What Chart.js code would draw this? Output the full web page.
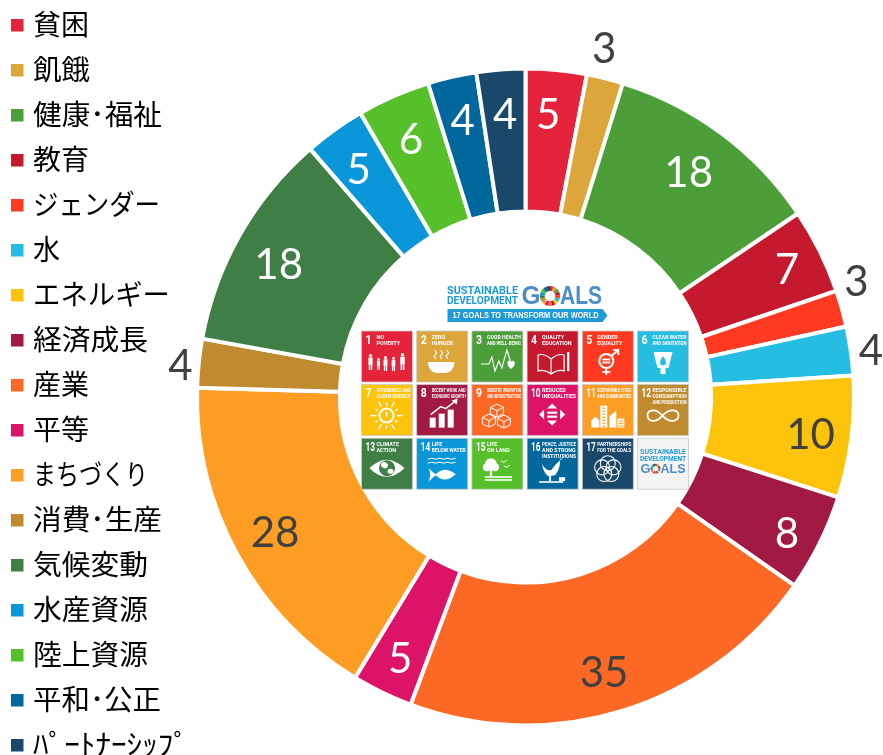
<!DOCTYPE html>
<html lang="ja">
<head>
<meta charset="utf-8">
<title>SDGs 分野別件数</title>
<style>
  html, body { margin: 0; padding: 0; background: #fff; overflow: hidden; }
  #wrap { position: relative; width: 883px; height: 755px; }
</style>
<script src="https://cdn.jsdelivr.net/npm/chart.js@4"></script>
</head>
<body>
<div id="wrap"><canvas id="chart" width="883" height="755"></canvas></div>
<script>
// Goal names, counts and the official goal colours
const goalNames = ['貧困', '飢餓', '健康･福祉', '教育', 'ジェンダー', '水', 'エネルギー', '経済成長', '産業', '平等', 'まちづくり', '消費･生産', '気候変動', '水産資源', '陸上資源', '平和･公正', 'ﾊﾟｰﾄﾅｰｼｯﾌﾟ'];
const goalCounts = [5, 3, 18, 7, 3, 4, 10, 8, 35, 5, 28, 4, 18, 5, 6, 4, 4];
const goalColors = ['#E5243B', '#DDA63A', '#4C9F38', '#C5192D', '#FF3A21', '#26BDE2', '#FCC30B', '#A21942', '#FD6925', '#DD1367', '#FD9D24', '#BF8B2E', '#3F7E44', '#0A97D9', '#56C02B', '#00689D', '#19486A'];

// Slices whose count sits outside the ring, and those with a dark count inside it
const outsideCounts = new Set(['飢餓', 'ジェンダー', '水', '消費･生産']);
const darkCounts = new Set(['エネルギー', '産業', 'まちづくり']);

// Hand placement of each count relative to its slice's mid-angle position
const countNudges = [[-4, 2], [-6, -8], [-7, 5], [6, 0], [-6, -20], [-1, 4], [2, 4], [6, 11], [-6, 4], [-1, 6], [0, 0], [3, 6], [1, 9], [-1, 5], [0, 5], [1, 2], [1, 3]];

// Set width of each key entry, in pixels
const keyWidths = [56, 57, 129, 56, 127, 27, 137, 115, 56, 56, 115, 129, 115, 115, 115, 128, 156];

// Text on the goal tiles in the middle of the ring
const tileNumbers = ['1', '2', '3', '4', '5', '6', '7', '8', '9', '10', '11', '12', '13', '14', '15', '16', '17'];
const tileTitles = [
  ['NO', 'POVERTY'], ['ZERO', 'HUNGER'], ['GOOD HEALTH', 'AND WELL-BEING'], ['QUALITY', 'EDUCATION'],
  ['GENDER', 'EQUALITY'], ['CLEAN WATER', 'AND SANITATION'], ['AFFORDABLE AND', 'CLEAN ENERGY'],
  ['DECENT WORK AND', 'ECONOMIC GROWTH'], ['INDUSTRY, INNOVATION', 'AND INFRASTRUCTURE'], ['REDUCED', 'INEQUALITIES'],
  ['SUSTAINABLE CITIES', 'AND COMMUNITIES'], ['RESPONSIBLE', 'CONSUMPTION', 'AND PRODUCTION'], ['CLIMATE', 'ACTION'],
  ['LIFE', 'BELOW WATER'], ['LIFE', 'ON LAND'], ['PEACE, JUSTICE', 'AND STRONG', 'INSTITUTIONS'],
  ['PARTNERSHIPS', 'FOR THE GOALS']
];

const NARROW = '"Liberation Sans Narrow", "Roboto", sans-serif';
const LOGO_BLUE = '#1f9ad6';
const GOALS_BLUE = '#4b8fc6';

// Small white pictograms, one per tile, drawn in a 51px tile box
function shape(ctx, fn) { ctx.beginPath(); fn(); ctx.fill(); }
function line(ctx, pts, w) {
  ctx.lineWidth = w; ctx.beginPath();
  pts.forEach((p, i) => i ? ctx.lineTo(p[0], p[1]) : ctx.moveTo(p[0], p[1]));
  ctx.stroke();
}
function person(ctx, x, top, h) {
  const r = h * 0.1;
  shape(ctx, () => ctx.arc(x, top + r, r, 0, 7));
  ctx.fillRect(x - h * 0.13, top + r * 2.2, h * 0.26, h * 0.44);
  ctx.fillRect(x - h * 0.11, top + h * 0.6, h * 0.09, h * 0.4);
  ctx.fillRect(x + h * 0.02, top + h * 0.6, h * 0.09, h * 0.4);
}
function cube(ctx, x, y, s) {
  ctx.lineWidth = 1;
  ctx.beginPath();
  ctx.moveTo(x, y - s); ctx.lineTo(x + s, y - s / 2); ctx.lineTo(x + s, y + s / 2);
  ctx.lineTo(x, y + s); ctx.lineTo(x - s, y + s / 2); ctx.lineTo(x - s, y - s / 2); ctx.closePath();
  ctx.moveTo(x - s, y - s / 2); ctx.lineTo(x, y); ctx.lineTo(x + s, y - s / 2); ctx.moveTo(x, y); ctx.lineTo(x, y + s);
  ctx.stroke();
}
const pictograms = [
  ctx => { [[9, 23, 16], [17, 27, 12], [24, 25, 15], [32, 26, 14], [41, 22, 17]].forEach(p => person(ctx, p[0], p[1], p[2])); },
  ctx => {
    shape(ctx, () => { ctx.moveTo(11, 31); ctx.lineTo(38, 31); ctx.quadraticCurveTo(37, 41, 29, 42); ctx.lineTo(20, 42); ctx.quadraticCurveTo(12, 41, 11, 31); });
    [19, 25, 31].forEach(x => line(ctx, [[x, 28], [x - 1.5, 25], [x + 1, 22], [x - 1, 19]], 1.1));
  },
  ctx => {
    line(ctx, [[9, 33], [17, 33], [20, 26], [23, 40], [27, 30], [30, 37], [35, 19], [39, 32]], 1.1);
    shape(ctx, () => { ctx.moveTo(39, 38); ctx.bezierCurveTo(33, 33, 36, 27, 39, 31); ctx.bezierCurveTo(42, 27, 46, 33, 39, 38); });
  },
  ctx => {
    ctx.lineWidth = 1.2;
    ctx.beginPath();
    ctx.moveTo(24, 28); ctx.quadraticCurveTo(17, 22, 11, 24); ctx.lineTo(11, 40); ctx.quadraticCurveTo(17, 38, 24, 43);
    ctx.quadraticCurveTo(31, 38, 37, 40); ctx.lineTo(37, 24); ctx.quadraticCurveTo(31, 22, 24, 28); ctx.lineTo(24, 43);
    ctx.stroke();
    ctx.fillRect(40, 21, 2.2, 19);
  },
  ctx => {
    ctx.lineWidth = 2;
    ctx.beginPath(); ctx.arc(24, 30, 7, 0, 7); ctx.stroke();
    ctx.fillRect(20, 27.6, 8, 1.8); ctx.fillRect(20, 30.6, 8, 1.8);
    line(ctx, [[24, 37], [24, 44]], 1.8); line(ctx, [[20, 41], [28, 41]], 1.8);
    line(ctx, [[29, 25], [36, 19]], 1.8);
    line(ctx, [[31, 19], [36, 19], [36, 24]], 1.8);
  },
  ctx => {
    shape(ctx, () => { ctx.moveTo(16, 21); ctx.lineTo(35, 21); ctx.lineTo(31, 37); ctx.lineTo(28, 37); ctx.lineTo(28, 43); ctx.lineTo(23, 43); ctx.lineTo(23, 37); ctx.lineTo(20, 37); ctx.closePath(); });
    ctx.save(); ctx.fillStyle = goalColors[5];
    shape(ctx, () => { ctx.moveTo(25.5, 25); ctx.bezierCurveTo(30, 31, 29, 34.5, 25.5, 34.5); ctx.bezierCurveTo(22, 34.5, 21, 31, 25.5, 25); });
    ctx.restore();
  },
  ctx => {
    ctx.lineWidth = 2;
    ctx.beginPath(); ctx.arc(25, 31, 7, 0, 7); ctx.stroke();
    for (let i = 0; i < 12; i++) {
      const a = i * Math.PI / 6, r0 = 10, r1 = i % 2 ? 13 : 16;
      line(ctx, [[25 + r0 * Math.cos(a), 31 + r0 * Math.sin(a)], [25 + r1 * Math.cos(a), 31 + r1 * Math.sin(a)]], 1.4);
    }
    line(ctx, [[25, 27], [25, 32]], 1.5);
  },
  ctx => {
    [[13, 33, 10], [22, 29, 14], [31, 25, 18]].forEach(b => ctx.fillRect(b[0], b[1], 6, b[2]));
    line(ctx, [[14, 30], [24, 22], [29, 24], [38, 17]], 1.5);
    shape(ctx, () => { ctx.moveTo(41, 14); ctx.lineTo(40, 20); ctx.lineTo(35, 16); });
  },
  ctx => { cube(ctx, 25, 26, 6.5); cube(ctx, 17, 36, 6.5); cube(ctx, 32, 37, 6.5); },
  ctx => {
    ctx.fillRect(20, 27, 10, 2.2); ctx.fillRect(20, 31, 10, 2.2);
    shape(ctx, () => { ctx.moveTo(25, 19); ctx.lineTo(30, 24); ctx.lineTo(20, 24); });
    shape(ctx, () => { ctx.moveTo(25, 41); ctx.lineTo(30, 36); ctx.lineTo(20, 36); });
    shape(ctx, () => { ctx.moveTo(12, 30); ctx.lineTo(17, 25); ctx.lineTo(17, 35); });
    shape(ctx, () => { ctx.moveTo(38, 30); ctx.lineTo(33, 25); ctx.lineTo(33, 35); });
  },
  ctx => {
    shape(ctx, () => { ctx.moveTo(9, 36); ctx.lineTo(13, 32); ctx.lineTo(17, 36); ctx.lineTo(17, 43); ctx.lineTo(9, 43); ctx.closePath(); });
    ctx.fillRect(18, 21, 7, 22);
    shape(ctx, () => { ctx.moveTo(27, 43); ctx.lineTo(27, 32); ctx.lineTo(34, 26); ctx.lineTo(34, 43); });
    ctx.fillRect(35, 34, 7, 9);
    ctx.save(); ctx.fillStyle = goalColors[10];
    for (let y = 23; y < 42; y += 3) ctx.fillRect(20, y, 3, 1.2);
    for (let y = 36; y < 42; y += 2.5) ctx.fillRect(36, y, 5, 1);
    ctx.restore();
  },
  ctx => {
    ctx.lineWidth = 1.7; ctx.beginPath();
    ctx.moveTo(25, 31); ctx.bezierCurveTo(18, 23, 10, 25, 10, 31); ctx.bezierCurveTo(10, 37, 18, 39, 25, 31);
    ctx.bezierCurveTo(32, 23, 41, 25, 41, 31); ctx.bezierCurveTo(41, 37, 32, 39, 25, 31);
    ctx.stroke();
  },
  ctx => {
    shape(ctx, () => { ctx.moveTo(8, 30); ctx.quadraticCurveTo(25, 13, 43, 30); ctx.quadraticCurveTo(25, 47, 8, 30); });
    ctx.save(); ctx.fillStyle = goalColors[12];
    shape(ctx, () => ctx.arc(25.5, 30, 8, 0, 7)); ctx.restore();
    shape(ctx, () => { ctx.ellipse(23, 27, 3.5, 3, 0.4, 0, 7); });
    shape(ctx, () => { ctx.ellipse(29, 33, 3, 2.5, 0, 0, 7); });
  },
  ctx => {
    [21, 25].forEach(y => line(ctx, [[11, y], [15, y - 1], [19, y], [23, y - 1], [27, y], [31, y - 1], [35, y], [39, y - 1]], 1));
    shape(ctx, () => { ctx.moveTo(12, 30); ctx.quadraticCurveTo(16, 34, 19, 36); ctx.quadraticCurveTo(28, 27, 39, 36); ctx.quadraticCurveTo(28, 46, 19, 37); ctx.lineTo(12, 43); ctx.quadraticCurveTo(15, 36, 12, 30); });
  },
  ctx => {
    shape(ctx, () => ctx.arc(19, 26, 6, 0, 7));
    shape(ctx, () => ctx.arc(15, 29, 4, 0, 7));
    shape(ctx, () => ctx.arc(23, 29, 4, 0, 7));
    ctx.fillRect(18, 30, 2.2, 8);
    ctx.fillRect(13, 38, 27, 1.6); ctx.fillRect(13, 41, 27, 1.6);
    line(ctx, [[29, 23], [32, 24], [35, 22]], 0.9);
    line(ctx, [[32, 28], [35, 29], [38, 27]], 0.9);
  },
  ctx => {
    shape(ctx, () => { ctx.moveTo(15, 26); ctx.quadraticCurveTo(19, 33, 24, 32); ctx.quadraticCurveTo(27, 27, 33, 22); ctx.quadraticCurveTo(33, 31, 28, 37); ctx.lineTo(21, 38); ctx.quadraticCurveTo(16, 34, 15, 26); });
    line(ctx, [[33, 22], [38, 17]], 0.9);
    ctx.fillRect(12, 43, 24, 1.6); ctx.fillRect(22, 38, 2, 5);
    ctx.fillRect(32, 39, 6, 4);
  },
  ctx => {
    ctx.lineWidth = 1.1;
    for (let i = 0; i < 5; i++) {
      const a = -Math.PI / 2 + i * 2 * Math.PI / 5;
      ctx.beginPath(); ctx.arc(25.5 + 6 * Math.cos(a), 31 + 6 * Math.sin(a), 7.5, 0, 7); ctx.stroke();
    }
  }
];

// Goal logo: a ring of the seventeen goal colours standing in for the letter O
function goalRing(ctx, cx, cy, rOut, rIn) {
  const step = 2 * Math.PI / goalColors.length;
  goalColors.forEach((c, i) => {
    ctx.fillStyle = c;
    ctx.beginPath();
    ctx.arc(cx, cy, rOut, -Math.PI / 2 + i * step, -Math.PI / 2 + (i + 1) * step);
    ctx.arc(cx, cy, rIn, -Math.PI / 2 + (i + 1) * step, -Math.PI / 2 + i * step, true);
    ctx.closePath(); ctx.fill();
  });
}

function drawTile(ctx, i, x, y, size) {
  ctx.save();
  ctx.translate(x, y);
  ctx.fillStyle = goalColors[i];
  ctx.strokeStyle = '#c9c9c9'; ctx.lineWidth = 0.8;
  ctx.fillRect(0, 0, size, size); ctx.strokeRect(0, 0, size, size);
  ctx.fillStyle = '#fff'; ctx.strokeStyle = '#fff';
  ctx.textAlign = 'left'; ctx.textBaseline = 'middle';
  ctx.font = 'bold 12px ' + NARROW;
  ctx.fillText(tileNumbers[i], 4, 9.5, i >= 9 ? 9.5 : 6);
  ctx.font = 'bold 5.4px ' + NARROW;
  tileTitles[i].forEach((t, k) => ctx.fillText(t, 15, 6.5 + k * 5.8, 34));
  pictograms[i](ctx);
  ctx.restore();
}

const centerGraphic = {
  id: 'centerGraphic',
  afterDatasetsDraw(chart) {
    const ctx = chart.ctx;
    const arc = chart.getDatasetMeta(0).data[0];
    const left = arc.x - 164, top = arc.y - 111;   // top-left of the logo block
    ctx.save();
    ctx.filter = 'blur(0.35px)';
    ctx.textBaseline = 'middle'; ctx.textAlign = 'left';

    // Wordmark
    ctx.fillStyle = LOGO_BLUE;
    ctx.font = 'bold 11px ' + NARROW;
    ctx.fillText('SUSTAINABLE', left + 85.5, top + 5.5, 71);
    ctx.fillText('DEVELOPMENT', left + 85.5, top + 15, 71);
    ctx.fillStyle = GOALS_BLUE;
    ctx.font = 'bold 25px "Liberation Sans", sans-serif';
    ctx.fillText('G', left + 160, top + 11, 19);
    ctx.fillText('ALS', left + 198.5, top + 11, 42);
    goalRing(ctx, left + 188.5, top + 10, 10, 5.2);

    // Arrow banner
    ctx.fillStyle = LOGO_BLUE;
    ctx.beginPath();
    ctx.moveTo(left + 86, top + 23); ctx.lineTo(left + 241, top + 23); ctx.lineTo(left + 246, top + 29.5);
    ctx.lineTo(left + 241, top + 36); ctx.lineTo(left + 86, top + 36); ctx.closePath(); ctx.fill();
    ctx.fillStyle = '#fff';
    ctx.font = 'bold 9px "Liberation Sans", sans-serif';
    ctx.fillText('17 GOALS TO TRANSFORM OUR WORLD', left + 91, top + 30, 146);

    // Six-by-three grid of goal tiles
    const size = 51, pitchX = 55.2, pitchY = 53.6;
    tileNumbers.forEach((_, i) => {
      drawTile(ctx, i, left + (i % 6) * pitchX, top + 45 + Math.floor(i / 6) * pitchY, size);
    });

    // Closing logo tile
    const lx = left + 5 * pitchX, ly = top + 45 + 2 * pitchY;
    ctx.fillStyle = '#f4f4f4'; ctx.strokeStyle = '#c9c9c9'; ctx.lineWidth = 0.8;
    ctx.fillRect(lx, ly, size, size); ctx.strokeRect(lx, ly, size, size);
    ctx.fillStyle = LOGO_BLUE;
    ctx.font = 'bold 7px ' + NARROW;
    ctx.textAlign = 'center';
    ctx.fillText('SUSTAINABLE', lx + 25.5, ly + 14, 46);
    ctx.fillText('DEVELOPMENT', lx + 25.5, ly + 21, 46);
    ctx.fillStyle = GOALS_BLUE;
    ctx.textAlign = 'left';
    ctx.font = 'bold 13px "Liberation Sans", sans-serif';
    ctx.fillText('G', lx + 3, ly + 31, 10);
    ctx.fillText('ALS', lx + 23, ly + 31, 25);
    goalRing(ctx, lx + 18, ly + 30.5, 5, 2.6);
    ctx.restore();
  }
};

// Counts placed along each slice's mid-angle, inside or outside the ring
const countLabels = {
  id: 'countLabels',
  afterDatasetsDraw(chart) {
    const ctx = chart.ctx;
    ctx.save();
    ctx.font = '42px Lato, sans-serif';
    ctx.textAlign = 'center'; ctx.textBaseline = 'middle';
    chart.getDatasetMeta(0).data.forEach((arc, i) => {
      const name = goalNames[i];
      const mid = (arc.startAngle + arc.endAngle) / 2;
      const outside = outsideCounts.has(name);
      const r = arc.outerRadius * (outside ? 1.065 : 0.868);
      const nudge = countNudges[i];
      ctx.fillStyle = outside || darkCounts.has(name) ? '#404040' : '#ffffff';
      ctx.fillText(String(goalCounts[i]), arc.x + r * Math.cos(mid) + nudge[0], arc.y + r * Math.sin(mid) + nudge[1]);
    });
    ctx.restore();
  }
};

// Single-column key along the left edge, each entry fitted to its set width
const goalKey = {
  id: 'goalKey',
  afterDraw(chart) {
    const ctx = chart.ctx;
    ctx.save();
    ctx.font = '28px "Noto Sans CJK JP", sans-serif';
    ctx.textAlign = 'left'; ctx.textBaseline = 'middle';
    goalNames.forEach((name, i) => {
      const y = 25 + i * 45;
      ctx.fillStyle = goalColors[i];
      ctx.fillRect(11, y - 6, 12.5, 12.5);
      ctx.fillStyle = '#000';
      ctx.save();
      ctx.translate(33, y - 1);
      ctx.scale(keyWidths[i] / ctx.measureText(name).width, 1);
      ctx.fillText(name, 0, 0);
      ctx.restore();
    });
    ctx.restore();
  }
};

new Chart(document.getElementById('chart'), {
  type: 'doughnut',
  data: {
    labels: goalNames,
    datasets: [{
      data: goalCounts,
      backgroundColor: goalColors,
      borderColor: '#ffffff',
      borderWidth: 4
    }]
  },
  options: {
    responsive: false,
    animation: false,
    cutout: '56.5%',
    layout: { padding: { left: 195, right: 27, top: 66, bottom: 27 } },
    plugins: { legend: { display: false }, tooltip: { enabled: false } }
  },
  plugins: [centerGraphic, countLabels, goalKey]
});
</script>
</body>
</html>
